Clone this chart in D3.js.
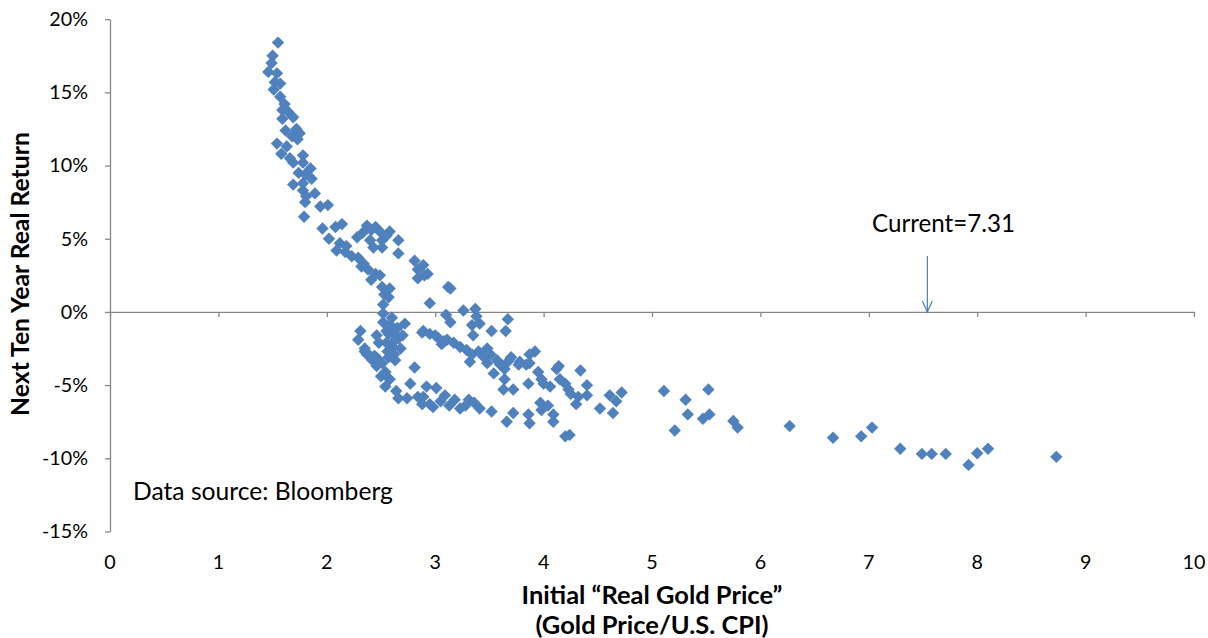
<html>
	<head>
		<title> Real Gold Price vs Next Ten Year Real Return </title>
		<script src="https://cdnjs.cloudflare.com/ajax/libs/d3/7.8.5/d3.min.js"></script>
		<style>
			body { margin: 0; background: #fff; }
			text { font-family: Lato, "Open Sans", sans-serif; fill: #000; }
		</style>

		<script type = "text/javascript">

			// initial real gold price (gold price / US CPI)
			var realPrice = [
				1.55, 1.50, 1.49, 1.46, 1.54, 1.52, 1.57, 1.51, 1.57, 1.59, 1.64, 1.59, 1.69, 1.72, 1.62, 1.68,
				1.73, 1.54, 1.63, 1.58, 1.78, 1.69, 1.85, 1.74, 1.86, 1.69, 1.78, 1.89, 1.81, 1.78, 1.80, 1.78,
				1.80, 1.94, 2.01, 1.79, 1.61, 1.75, 1.66,
				1.96, 2.08, 2.14, 2.02, 2.12, 2.09, 2.17, 2.23, 2.29, 2.18, 2.32, 2.38, 2.41, 2.49, 2.51, 2.58,
				2.57, 2.52, 2.34, 2.45, 2.53,
				2.28, 2.37, 2.41, 2.49, 2.58, 2.66, 2.51, 2.43, 2.51, 2.66, 2.33, 2.45, 2.55, 2.40,
				2.81, 2.84, 2.84, 2.89, 2.93, 2.90, 3.12, 3.14, 2.95, 3.10, 3.14, 3.26, 3.37, 3.38, 3.34, 3.41,
				3.35, 3.52, 3.67, 3.65, 3.92, 3.87,
				2.52, 2.52, 2.72, 2.31, 2.29, 2.46, 2.57, 2.66, 2.88, 2.48, 2.61, 2.35, 2.37, 2.44, 2.51, 2.63,
				2.81, 2.54, 2.58, 2.54, 2.77, 2.64, 2.66, 2.74, 2.84, 2.88, 2.55, 2.63, 2.55, 2.35, 2.40, 2.46,
				2.50, 2.42, 2.47, 2.58, 2.62, 2.56, 2.60, 2.60, 2.65, 2.70, 2.62, 2.68, 2.57,
				2.89, 2.95, 3.03, 3.11, 3.17, 3.23, 3.29, 3.34, 3.48, 3.51, 3.57, 3.67, 3.78, 3.84, 4.14, 4.34,
				3.32, 3.48, 3.54, 3.64, 3.77, 3.87, 3.64, 3.86, 3.98, 4.06, 4.12, 4.15, 4.23, 4.40, 4.32, 4.40,
				4.30, 4.61, 4.72, 4.67, 4.52, 4.64, 3.63, 3.72, 3.06, 3.40, 3.45, 3.60, 3.70, 3.95, 4.00, 4.20,
				4.25, 3.00, 3.08,
				2.92, 3.01, 2.89, 2.98, 3.09, 3.18, 3.31, 3.23, 3.41, 3.52, 3.72, 3.66, 3.86, 3.87, 3.97, 4.04,
				3.98, 4.09, 4.09, 4.24, 4.20, 2.95, 3.05, 3.13, 3.28, 3.36,
				5.11, 5.31, 5.52, 5.33, 5.21, 5.47, 5.53, 5.75, 5.79, 6.27, 6.67, 6.93, 7.03, 7.29, 7.49, 7.58,
				7.71, 7.92, 8.00, 8.10, 8.73
			];

			// next ten year real return, percent
			var nextReturn = [
				18.4, 17.5, 17.0, 16.4, 16.3, 15.7, 15.6, 15.2, 14.7, 13.8, 13.7, 13.2, 13.3, 12.5, 12.4, 12.0,
				11.8, 11.5, 11.3, 10.8, 10.7, 10.2, 9.8, 9.5, 9.1, 8.7, 8.3, 8.1, 7.9, 10.2, 9.4, 8.8,
				7.5, 7.2, 7.3, 6.5, 14.2, 12.2, 10.5,
				5.7, 5.8, 6.0, 5.0, 4.7, 4.2, 4.1, 3.8, 3.7, 4.5, 3.1, 2.9, 2.2, 2.5, 1.7, 1.6,
				1.0, 0.5, 3.3, 2.6, 1.2,
				5.1, 5.9, 5.6, 5.5, 5.5, 4.9, 4.9, 4.4, 4.4, 4.0, 5.4, 5.8, 5.2, 4.9,
				3.5, 2.9, 2.3, 3.2, 2.6, 2.5, 1.7, 1.6, 0.6, -0.2, -0.7, 0.1, 0.2, -0.3, -0.9, -0.8,
				-1.6, -1.3, -0.5, -1.3, -2.7, -2.9,
				-0.1, -0.7, -0.8, -1.3, -1.9, -1.6, -1.5, -1.8, -1.4, -2.1, -2.4, -2.5, -2.9, -3.0, -3.5, -3.3,
				-3.8, -4.1, -4.6, -5.1, -4.9, -5.4, -5.9, -5.9, -5.8, -6.3, -1.3, -1.6, -2.1, -2.7, -3.0, -3.7,
				-4.4, -3.3, -3.2, -0.9, -2.9, -2.7, -1.0, -0.4, -1.1, -1.6, -2.0, -2.5, -3.1,
				-1.3, -1.5, -1.8, -1.9, -2.1, -2.4, -2.6, -2.9, -2.5, -2.9, -3.3, -3.4, -3.4, -3.6, -3.7, -4.0,
				-3.4, -3.5, -4.2, -3.9, -3.6, -3.5, -4.6, -4.9, -4.6, -5.1, -3.9, -4.6, -5.3, -5.0, -5.8, -5.7,
				-6.3, -5.7, -5.5, -6.1, -6.6, -6.9, -5.3, -5.3, -2.2, -2.7, -3.1, -3.6, -3.1, -4.1, -4.9, -4.9,
				-5.6, -1.6, -2.0,
				-5.1, -5.2, -5.8, -6.5, -5.7, -6.0, -6.0, -6.6, -6.6, -6.8, -6.9, -7.5, -7.0, -7.6, -6.2, -6.4,
				-6.7, -7.0, -7.5, -8.4, -8.5, -6.3, -6.1, -6.4, -6.4, -6.2,
				-5.4, -6.0, -5.3, -7.0, -8.1, -7.3, -7.0, -7.45, -7.9, -7.8, -8.6, -8.5, -7.9, -9.35, -9.7, -9.7,
				-9.7, -10.45, -9.65, -9.35, -9.9
			];

			var xTicks = [0, 1, 2, 3, 4, 5, 6, 7, 8, 9, 10];
			var yTicks = [-15, -10, -5, 0, 5, 10, 15, 20];

			var currentLabel = "Current=7.31";
			var currentX = 7.54;
			var sourceLabel = "Data source: Bloomberg";

			// scale a text's font so that it is as wide as in the original
			function fit(sel, w){
				var fs = parseFloat(sel.style("font-size"));
				var cw = sel.node().getComputedTextLength();
				var nfs = fs * w / cw;
				sel.style("font-size", nfs + "px");
				return nfs;
			}

			function exec(){
				var svg = d3.select(".datavis")
					.append("svg")
					.attr("width", 1208)
					.attr("height", 638);

				var x = d3.scaleLinear().domain([0, 10]).range([110, 1194]);
				var y = d3.scaleLinear().domain([-15, 20]).range([531.5, 19.2]);

				// y axis on x = 0
				var yAxis = svg.append("g")
					.attr("transform", "translate(" + x(0) + ",0)")
					.call(d3.axisLeft(y).tickValues(yTicks).tickSize(5).tickSizeOuter(0).tickPadding(17)
						.tickFormat(function(d){ return d + "%"; }));
				// x axis on y = 0, labels sit at the bottom
				var xAxis = svg.append("g")
					.attr("transform", "translate(0," + y(0) + ")")
					.call(d3.axisBottom(x).tickValues(xTicks).tickSize(5).tickSizeOuter(0).tickFormat(""));

				svg.selectAll(".domain, .tick line")
					.style("stroke", "#868686")
					.style("stroke-width", 1.3);
				var yLabels = yAxis.selectAll("text")
					.style("font-size", "18px")
					.style("font-family", "Lato, sans-serif")
					.style("fill", "#000");
				var tickFs = fit(yAxis.selectAll("text").filter(function(d){ return d == -15; }), 46);
				yLabels.style("font-size", tickFs + "px");

				svg.append("g")
					.selectAll("text")
					.data(xTicks)
					.enter()
					.append("text")
					.attr("x", function(d){ return x(d); })
					.attr("y", 562)
					.attr("dy", "0.36em")
					.attr("text-anchor", "middle")
					.style("font-size", tickFs + "px")
					.text(function(d){ return d; });

				// points
				var diamond = d3.symbol().type(d3.symbolDiamond2).size(98);
				svg.append("g")
					.selectAll("path")
					.data(realPrice)
					.enter()
					.append("path")
					.attr("d", diamond)
					.attr("transform", function(d, i){ return "translate(" + x(d) + "," + y(nextReturn[i]) + ")"; })
					.style("fill", "#4F81BD");

				// current marker arrow
				var ax = x(currentX);
				svg.append("line")
					.attr("x1", ax).attr("y1", 256)
					.attr("x2", ax).attr("y2", y(0))
					.style("stroke", "#4A7EBB")
					.style("stroke-width", 1.2);
				svg.append("path")
					.attr("d", "M" + (ax - 5) + "," + (y(0) - 11) + "L" + ax + "," + y(0) + "L" + (ax + 5) + "," + (y(0) - 11))
					.style("fill", "none")
					.style("stroke", "#4A7EBB")
					.style("stroke-width", 1.2);
				var cur = svg.append("text")
					.attr("x", 872)
					.attr("y", 232)
					.style("font-size", "20px")
					.text(currentLabel);
				fit(cur, 143);

				var src = svg.append("text")
					.attr("x", 133)
					.attr("y", 500)
					.style("font-size", "20px")
					.text(sourceLabel);
				fit(src, 260);

				// axis titles
				var yt = svg.append("text")
					.attr("transform", "translate(20,274) rotate(-90)")
					.attr("dy", "0.36em")
					.attr("text-anchor", "middle")
					.style("font-size", "20px")
					.style("font-weight", "bold")
					.text("Next Ten Year Real Return");
				fit(yt, 284);
				var xt1 = svg.append("text")
					.attr("x", 652)
					.attr("y", 604)
					.attr("text-anchor", "middle")
					.style("font-size", "20px")
					.style("font-weight", "bold")
					.text("Initial \u201CReal Gold Price\u201D");
				var tfs = fit(xt1, 261);
				svg.append("text")
					.attr("x", 652)
					.attr("y", 634)
					.attr("text-anchor", "middle")
					.style("font-size", tfs + "px")
					.style("font-weight", "bold")
					.text("(Gold Price/U.S. CPI)");
			}

			window.onload = function(){
				exec();
			};

		</script>
	</head>

	<body>
		<div class="datavis"></div>
	</body>
</html>
